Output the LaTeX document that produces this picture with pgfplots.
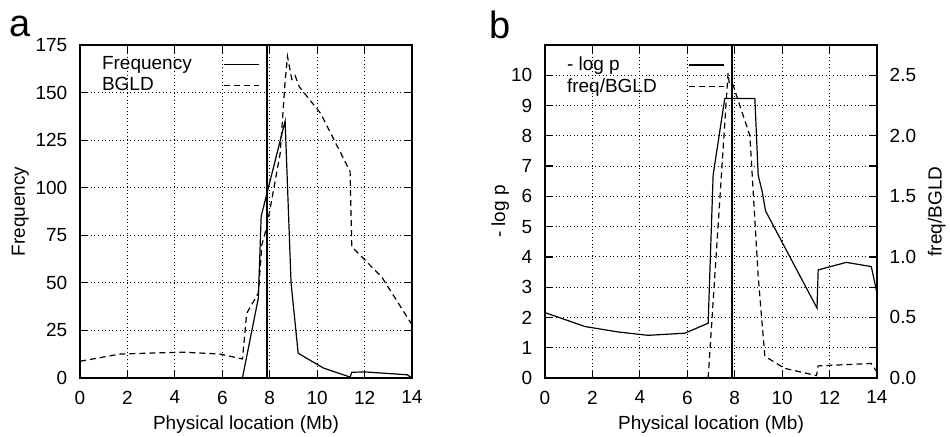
\documentclass[border=0pt]{standalone}
\usepackage{pgfplots}
\pgfplotsset{compat=1.18}
\usepackage{fontspec}
\setmainfont{Liberation Sans}

\pgfplotsset{
  gp/.style={
    scale only axis, width=166pt, height=166.5pt,
    xmin=0, xmax=14, xtick={0,2,...,14},
    tick align=inside, major tick length=4pt,
    tick style={black, line width=0.6pt},
    axis line style={line width=0.8pt},
    grid=major,
    grid style={black, line width=0.45pt, dash pattern=on 0.5pt off 1.3pt},
    /pgf/number format/assume math mode=true,
    xticklabel style={yshift=-3pt},
    yticklabel style={xshift=-3pt},
    xlabel={Physical location (Mb)},
    xlabel style={at={(axis description cs:0.5,-0.14)}, anchor=center},
    legend plot pos=right,
    legend cell align=left,
    legend style={at={(axis description cs:0.035,0.99)}, anchor=north west,
      draw=none, fill=none, row sep=-1.5pt},
  },
  solidline/.style={black, line width=0.6pt},
  dashline/.style={black, line width=0.6pt, dash pattern=on 3pt off 2pt},
}

\begin{document}
\fontsize{9.5}{11.2}\selectfont
\begin{tikzpicture}
\useasboundingbox (-40pt,-29pt) rectangle (435pt,189pt);

% panel a
\begin{axis}[gp, name=pa, at={(0pt,0pt)}, anchor=south west,
  ymin=0, ymax=175, ytick={0,25,...,175},
  ylabel={Frequency},
  ylabel style={at={(axis description cs:-0.18,0.5)}, anchor=center}]
\addplot[solidline] coordinates {
  (0,0) (6.85,0) (7.52,42) (7.64,85) (8.65,135) (8.9,50) (9.2,13)
  (10.27,5.2) (11.39,0.5) (11.46,3) (12.0,3.2) (13.8,1.7) (14,0)};
\addlegendentry{Frequency\hspace*{14pt}}
\addplot[dashline] coordinates {
  (0,8.8) (1.7,12.6) (4.3,13.6) (5.9,12.6) (6.85,10) (7.03,34) (7.52,44.6)
  (7.67,70) (7.88,79.6) (8.44,118) (8.65,156) (8.75,169) (8.93,157)
  (9.07,159) (9.25,153) (10.15,139) (11.39,108.5) (11.46,69) (12.73,53) (14,28)};
\addlegendentry{BGLD\hspace*{14pt}}
\addplot[black, line width=1pt, forget plot] coordinates {(7.87,0) (7.87,175)};
\end{axis}
\node[font=\fontsize{19}{20}\selectfont, anchor=center, xshift=-30pt, yshift=9.5pt]
  at (pa.north west) {a};

% panel b, left axis
\begin{axis}[gp, name=pb, at={(232.5pt,0pt)}, anchor=south west,
  ymin=0, ymax=11, ytick={0,1,...,10},
  ylabel={- log p},
  ylabel style={at={(axis description cs:-0.135,0.5)}, anchor=center}]
\addplot[solidline] coordinates {
  (0,2.16) (1.69,1.70) (3.09,1.52) (4.35,1.41) (5.9,1.48) (6.88,1.81)
  (7.09,6.7) (7.58,9.23) (8.85,9.23) (8.99,6.7) (9.16,6.15) (9.3,5.52)
  (11.47,2.31) (11.52,3.57) (12.71,3.82) (13.76,3.68) (14,2.8)};
\addlegendentry{- log p\hspace*{14pt}}
\addlegendimage{dashline}
\addlegendentry{freq/BGLD\hspace*{14pt}}
\addplot[black, line width=1pt, forget plot] coordinates {(7.87,0) (7.87,11)};
\end{axis}
\node[font=\fontsize{19}{20}\selectfont, anchor=center, xshift=-22.5pt, yshift=10pt]
  at (pb.north west) {b};

% panel b, right axis
\begin{axis}[scale only axis, width=166pt, height=166.5pt,
  at={(232.5pt,0pt)}, anchor=south west,
  xmin=0, xmax=14, axis x line=none, axis y line*=right,
  ymin=0, ymax=2.75, ytick={0,0.5,...,2.5},
  tick align=inside, major tick length=4pt,
  tick style={black, line width=0.6pt},
  axis line style={line width=0.8pt},
  /pgf/number format/assume math mode=true,
  yticklabel style={/pgf/number format/fixed, /pgf/number format/fixed zerofill,
    /pgf/number format/precision=1, xshift=3pt},
  ylabel={freq/BGLD},
  ylabel style={at={(axis description cs:1.18,0.5)}, anchor=center}]
\addplot[dashline] coordinates {
  (6.88,0) (7.72,2.52) (7.78,2.42) (7.93,2.42) (8.64,2.0) (8.99,0.84)
  (9.27,0.18) (10.1,0.08) (11.45,0.02) (11.52,0.10) (13.75,0.12) (14,0.05)};
\end{axis}
\end{tikzpicture}
\end{document}
